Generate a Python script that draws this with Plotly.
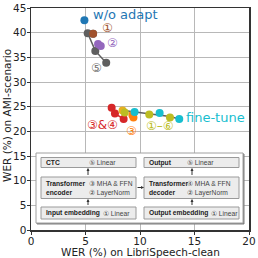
import plotly.graph_objects as go

# ---- data (WER %) ----
wo_x, wo_y = [4.9], [42.5]
gray_up_x = [5.7, 5.2, 5.9, 6.9]
gray_up_y = [39.8, 39.9, 36.3, 33.9]
brown_x, brown_y = [5.7], [39.8]
purple_x, purple_y = [6.15, 6.4], [37.7, 37.3]

gray_lo_x = [8.5, 10.85, 12.75, 13.6]
gray_lo_y = [24.2, 23.5, 23.0, 22.5]
red_x, red_y = [7.4, 7.7, 8.5], [24.8, 23.6, 22.5]
gold_x, gold_y = [8.4], [24.2]
olive_x, olive_y = [8.6, 10.85, 12.75], [23.8, 23.4, 22.8]
orange_x, orange_y = [9.3, 9.4], [23.3, 22.8]
cyan_x, cyan_y = [9.5, 11.8, 13.6], [23.9, 23.7, 22.5]

xticks = [0, 5, 10, 15, 20]
yticks = [0, 5, 10, 15, 20, 25, 30, 35, 40, 45]

FONT = "DejaVu Sans"
IFONT = "Liberation Sans"
fig = go.Figure()

def add(x, y, color, mode="markers", size=8, width=1.5):
    fig.add_trace(go.Scatter(x=x, y=y, mode=mode, showlegend=False,
                             marker=dict(color=color, size=size),
                             line=dict(color=color, width=width), hoverinfo="skip"))

add(gray_up_x, gray_up_y, "#5f5f5f", "lines+markers")
add(brown_x, brown_y, "#a0522d")
add(purple_x, purple_y, "#9467bd", "lines+markers")
add(wo_x, wo_y, "#1f77b4")
add(red_x, red_y, "#d62728", "lines+markers")
add(gray_lo_x, gray_lo_y, "#5f5f5f", "lines", width=1.5)
add(gold_x, gold_y, "#e8b020")
add(orange_x, orange_y, "#ff7f0e", "lines+markers")
add(cyan_x, cyan_y, "#17becf")
add(olive_x, olive_y, "#bcbd22")

# pixel -> data helpers (plot area: x 31..249, y 8..230)
def dx(px): return (px - 31) / 10.9
def dy(py): return (230 - py) / (222 / 45)

ann = []
def txt(px, py, s, color, size=12, anchor="left", bold=False, family=FONT):
    ann.append(dict(x=dx(px), y=dy(py), xref="x", yref="y", text=("<b>%s</b>" % s if bold else s),
                    showarrow=False, xanchor=anchor, yanchor="middle",
                    font=dict(family=family, size=size, color=color)))

txt(91, 14, "w/o adapt", "#1f77b4", 13)
txt(107, 28, "①", "#a0522d", 12, "center")
txt(112, 43, "②", "#9467bd", 12, "center")
txt(96, 68, "⑤", "#6e6e6e", 12, "center")
txt(102, 125, "③&amp;④", "#d62728", 12, "center")
txt(131, 131, "③", "#ff7f0e", 12, "center")
txt(160, 126, "①–⑥", "#bcbd22", 12, "center")
txt(184, 117, "fine-tune", "#17becf", 13)

shapes = []
def rect(x0, y0, x1, y1, fill, line="#9a9a9a", w=1):
    shapes.append(dict(type="rect", xref="x", yref="y", x0=dx(x0), x1=dx(x1), y0=dy(y1), y1=dy(y0),
                       fillcolor=fill, line=dict(color=line, width=w), layer="above"))

rect(37, 154, 244, 224, "#7f7f7f", line="#7f7f7f")   # shadow
rect(36, 153, 243, 223, "white", line="#a0a0a0")
for (x0, x1) in [(41, 136), (144, 239)]:
    rect(x0, 157.5, x1, 167.5, "#ececec")
    rect(x0, 177, x1, 198.5, "#ececec")
    rect(x0, 207, x1, 219, "#ececec")

fs = 6.7
dark = "#222222"
mid = "#444444"
def itxt(px, py, s, bold=False):
    txt(px, py, s, dark if bold else mid, fs, bold=bold, family=IFONT)

itxt(44, 162.5, "CTC", True)
itxt(87, 162.5, "⑤ Linear")
itxt(44, 183, "Transformer", True)
itxt(44, 192.5, "encoder", True)
itxt(87, 183, "③ MHA &amp; FFN")
itxt(87, 192.5, "② LayerNorm")
itxt(44, 213, "Input embedding", True)
itxt(101, 213, "① Linear")

itxt(147, 162.5, "Output", True)
itxt(185, 162.5, "⑤ Linear")
itxt(147, 183, "Transformer", True)
itxt(147, 192.5, "decoder", True)
itxt(185, 183, "④ MHA &amp; FFN")
itxt(185, 192.5, "② LayerNorm")
itxt(147, 213, "Output embedding", True)
itxt(209, 213, "① Linear")

def arrow(x0, y0, x1, y1):
    ann.append(dict(x=dx(x1), y=dy(y1), ax=dx(x0), ay=dy(y0), xref="x", yref="y",
                    axref="x", ayref="y", showarrow=True, arrowhead=2, arrowsize=0.6,
                    arrowwidth=1, arrowcolor="#333333", text=""))

arrow(88, 176.5, 88, 168)
arrow(88, 206.5, 88, 199)
arrow(192, 176.5, 192, 168)
arrow(192, 206.5, 192, 199)
arrow(136, 187.5, 144, 187.5)

# axis titles as paper annotations
ann.append(dict(x=(140 - 31) / 218, y=(230 - 252) / 222, xref="paper", yref="paper",
                text="WER (%) on LibriSpeech-clean", showarrow=False, xanchor="center",
                yanchor="middle", font=dict(family=FONT, size=10.5, color="#222222")))
ann.append(dict(x=(7 - 31) / 218, y=(230 - 116) / 222, xref="paper", yref="paper",
                text="WER (%) on AMI-scenario", showarrow=False, xanchor="center",
                yanchor="middle", textangle=-90, font=dict(family=FONT, size=10.5, color="#222222")))

axis_common = dict(showgrid=True, gridcolor="#b8b8b8", gridwidth=1, zeroline=False,
                   showline=True, linecolor="#333333", linewidth=1.5, mirror=True,
                   ticks="outside", ticklen=3, tickcolor="#333333", automargin=False,
                   ticklabelstandoff=-2,
                   tickfont=dict(family=FONT, size=10.5, color="#222222"))

fig.update_layout(
    width=258, height=258, margin=dict(l=31, r=9, t=8, b=28),
    plot_bgcolor="white", paper_bgcolor="white",
    xaxis=dict(range=[0, 20], tickvals=xticks, ticktext=[str(v) for v in xticks], **axis_common),
    yaxis=dict(range=[0, 45], tickvals=yticks, ticktext=[str(v) for v in yticks], **axis_common),
    annotations=ann, shapes=shapes,
)

fig.write_html("out.html", config={"displayModeBar": False, "staticPlot": True},
               post_script="document.body.style.margin='0';document.body.style.overflow='hidden';")
